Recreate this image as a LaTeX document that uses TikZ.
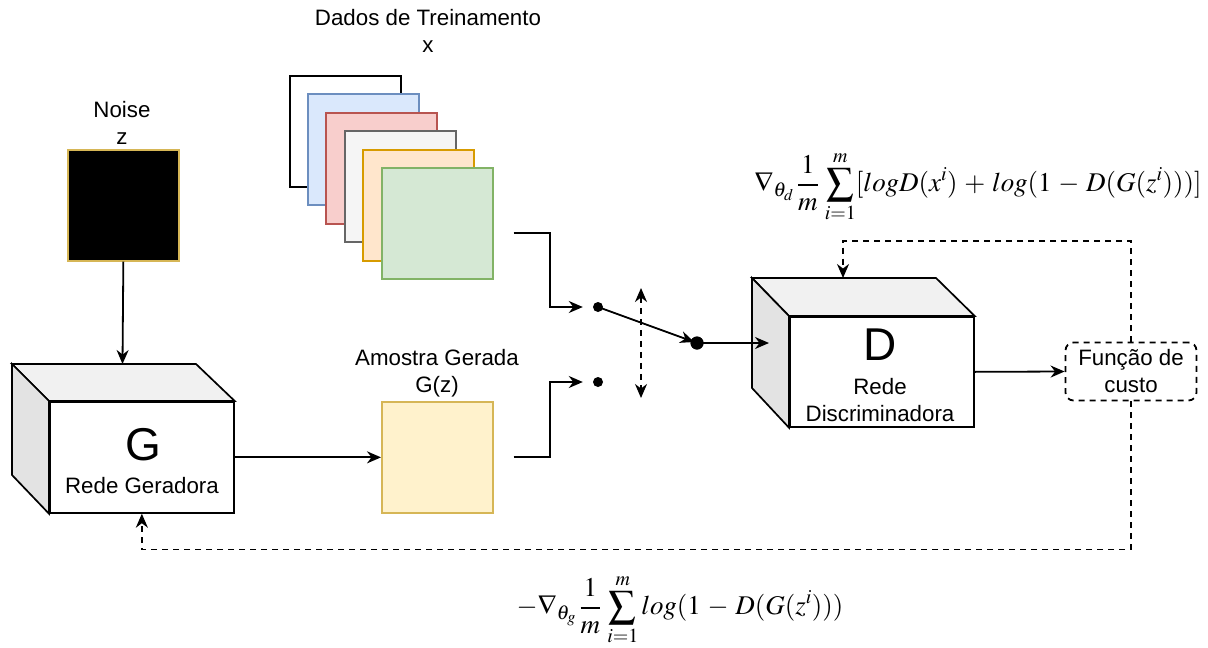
\documentclass[tikz,border=0pt]{standalone}
\usepackage{mathptmx}
\usepackage[no-math]{fontspec}
\setmainfont{Liberation Sans}
\usetikzlibrary{arrows.meta}

\definecolor{yelborder}{HTML}{D6B656}
\definecolor{yelfill}{HTML}{FFF2CC}
\definecolor{bluefill}{HTML}{DAE8FC}
\definecolor{blueborder}{HTML}{6C8EBF}
\definecolor{redfill}{HTML}{F8CECC}
\definecolor{redborder}{HTML}{B85450}
\definecolor{grayfill}{HTML}{F5F5F5}
\definecolor{grayborder}{HTML}{666666}
\definecolor{orangefill}{HTML}{FFE6CC}
\definecolor{orangeborder}{HTML}{D79B00}
\definecolor{greenfill}{HTML}{D5E8D4}
\definecolor{greenborder}{HTML}{82B366}
\definecolor{cubetop}{HTML}{F1F1F1}
\definecolor{cubeside}{HTML}{E3E3E3}

\begin{document}
\begin{tikzpicture}[x=1pt,y=-1pt,
  lbl/.style={font=\fontsize{22.3}{27}\selectfont, align=center, inner sep=0pt},
  bigletter/.style={font=\fontsize{46}{46}\selectfont, inner sep=0pt},
  sq/.style={draw, line width=1.7pt, minimum width=111pt, minimum height=111pt,
             anchor=north west, inner sep=0pt},
  face/.style={draw, line width=1.7pt, line join=miter},
  front/.style={draw, fill=white, line width=1.7pt, minimum width=184pt,
                minimum height=111pt, anchor=north west, inner sep=0pt},
  conn/.style={line width=1.8pt},
  arr/.style={conn, -{Stealth[length=14pt,width=12pt,inset=4.5pt]}},
  darr/.style={conn, {Stealth[length=14pt,width=12pt,inset=4.5pt]}-{Stealth[length=14pt,width=12pt,inset=4.5pt]}},
  dsh/.style={dash pattern=on 6pt off 5pt},
  dot/.style={circle, fill=black, inner sep=0pt},
  formula/.style={font=\fontsize{27}{31}\selectfont, inner sep=0pt}
]
\useasboundingbox (0,0) rectangle (1208,648);

% --- noise input
\node[lbl] (noiselbl) at (122,123) {Noise\\z};
\node[sq, fill=black, draw=yelborder] (noise) at (67,149) {};

% --- generator cube
\node[front] (gfront) at (49,401) {};
\draw[face, fill=cubetop] (gfront.north west) -- ++(-37,-37) -- ++(184,0) -- (gfront.north east) -- cycle;
\draw[face, fill=cubeside] (gfront.north west) -- ++(-37,-37) -- ++(0,111) -- (gfront.south west) -- cycle;
\node[bigletter] (gletter) at (143,445) {G};
\node[lbl] (gname) at (142,486) {Rede Geradora};

% --- training data stack
\node[lbl] (datalbl) at (428,31) {Dados de Treinamento\\x};
\node[sq, fill=white, draw=black] (s1) at (289,75) {};
\node[sq, fill=bluefill, draw=blueborder] (s2) at (307,93) {};
\node[sq, fill=redfill, draw=redborder] (s3) at (325,112) {};
\node[sq, fill=grayfill, draw=grayborder] (s4) at (344,130) {};
\node[sq, fill=orangefill, draw=orangeborder] (s5) at (362,149) {};
\node[sq, fill=greenfill, draw=greenborder] (green) at (381,167) {};

% --- generated sample
\node[lbl] (amostralbl) at (437,373) {Amostra Gerada\\G(z)};
\node[sq, fill=yelfill, draw=yelborder] (amostra) at (381,401) {};

% --- switch
\node[dot, minimum size=10pt] (dota) at (598,307) {};
\node[dot, minimum size=10pt] (dotb) at (598,382) {};
\node[dot, minimum size=13pt] (dotc) at (697,343) {};
\coordinate (swup) at (641,288);
\coordinate (swdn) at (641,398);

% --- discriminator cube
\node[front, minimum height=110pt] (dfront) at (789,316) {};
\draw[face, fill=cubetop] (dfront.north west) -- ++(-37,-38) -- ++(184,0) -- (dfront.north east) -- cycle;
\draw[face, fill=cubeside] (dfront.north west) -- ++(-37,-38) -- ++(0,110) -- (dfront.south west) -- cycle;
\node[bigletter] (dletter) at (880,345) {D};
\node[lbl] (dname) at (880,400) {Rede\\Discriminadora};
\coordinate (din) at (769,343);
\coordinate (dtop) at (843,278);

% --- cost function
\node[draw, conn, dsh, rounded corners=8pt, minimum width=131pt, minimum height=58pt,
      lbl, inner sep=0pt] (cost) at (1131,371.5) {Função de\\custo};

% --- connectors
\draw[arr] (noise.south) -- (122.5,364);
\draw[arr] (gfront.east) -- (amostra.west);
\draw[arr] ([xshift=20pt,yshift=-9.5pt]green.east) -- ++(36,0) |- ([xshift=-10pt]dota.west);
\draw[arr] ([xshift=20pt]amostra.east) -- ++(36,0) |- ([xshift=-10pt]dotb.west);
\draw[arr, shorten >=3pt] (dota.center) -- (dotc.center);
\node[dot, minimum size=13pt] at (dotc) {};
\draw[darr, dsh] (swup) -- (swdn);
\draw[arr] (dotc.center) -- (din);
\draw[arr] (dfront.east) -- (cost.west);
\draw[arr, dsh] (cost.north) -- ++(0,-101) -| (dtop);
\draw[arr, dsh] (cost.south) -- ++(0,148) -| (gfront.south);

% --- gradient formulas
\node[formula] (dgrad) at (978,187)
  {$\displaystyle \nabla_{\theta_d}\,\frac{1}{m}\,\sum_{i=1}^{m}[log D(x^{i})\mathbin{\,+\,}log(1\mathbin{\,-\,}D(G(z^{i})))]$};
\node[formula] (ggrad) at (680,610)
  {$\displaystyle -\nabla_{\theta_g}\,\frac{1}{m}\,\sum_{i=1}^{m}log(1\mathbin{\,-\,}D(G(z^{i})))$};
\end{tikzpicture}
\end{document}
